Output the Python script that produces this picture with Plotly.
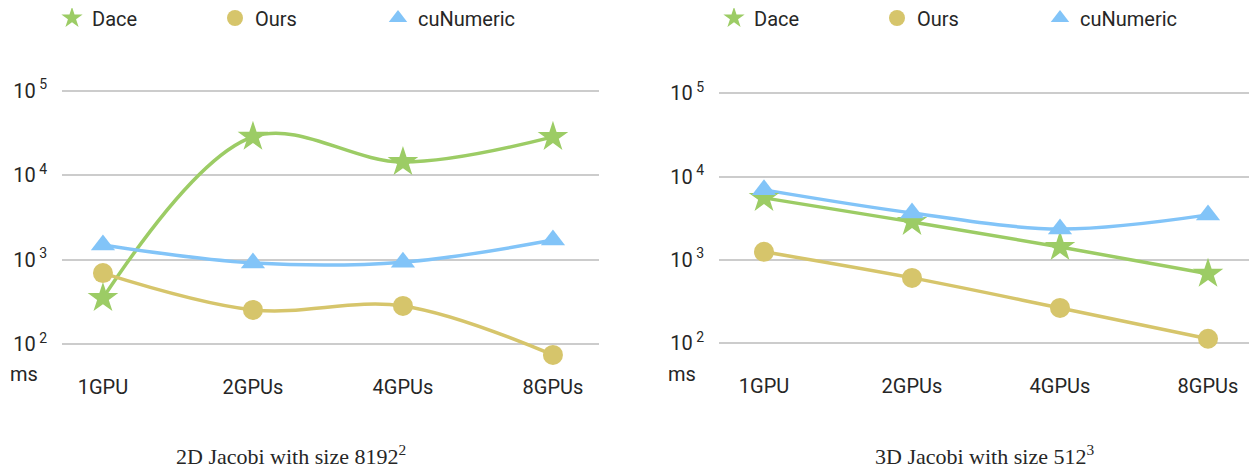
import plotly.graph_objects as go

# ---- data ----
categories = ["1GPU", "2GPUs", "4GPUs", "8GPUs"]
series_names = ["Dace", "Ours", "cuNumeric"]

jacobi2d_dace = [350, 28500, 14300, 28400]
jacobi2d_ours = [690, 253, 282, 74]
jacobi2d_cunumeric = [1490, 910, 930, 1700]

jacobi3d_dace = [5550, 2860, 1430, 680]
jacobi3d_ours = [1250, 608, 265, 113]
jacobi3d_cunumeric = [6930, 3660, 2350, 3470]

y_tick_values = [100, 1000, 10000, 100000]
y_tick_labels = ["10<sup> 2</sup>", "10<sup> 3</sup>", "10<sup> 4</sup>", "10<sup> 5</sup>"]
y_unit = "ms"
panel_titles = ["2D Jacobi with size 8192<sup>2</sup>", "3D Jacobi with size 512<sup>3</sup>"]

# ---- styles ----
# the page body adds an 8px margin, so the figure is 8px smaller than the window
W, H = 1249, 462
OFF = 8
colors = {"Dace": "#9ccc65", "Ours": "#d6c56b", "cuNumeric": "#82c4f8"}
symbols = {"Dace": "star", "Ours": "circle", "cuNumeric": "triangle-up"}
sizes = {"Dace": 23, "Ours": 20, "cuNumeric": 21}
FONT = "Roboto, 'Noto Sans', sans-serif"
TXT = "#262626"

panels = [
    {"data": dict(zip(series_names, [jacobi2d_dace, jacobi2d_ours, jacobi2d_cunumeric])),
     "xa": "x", "ya": "y", "legend": "legend"},
    {"data": dict(zip(series_names, [jacobi3d_dace, jacobi3d_ours, jacobi3d_cunumeric])),
     "xa": "x2", "ya": "y2", "legend": "legend2"},
]

fig = go.Figure()
for p in panels:
    # smoothed lines (not shown in legend)
    for name in series_names:
        fig.add_trace(go.Scatter(
            x=categories, y=p["data"][name], name=name, mode="lines",
            line=dict(color=colors[name], width=3.5, shape="spline", smoothing=1),
            xaxis=p["xa"], yaxis=p["ya"], showlegend=False, hoverinfo="skip",
        ))
    # markers (legend entries)
    for name in series_names:
        fig.add_trace(go.Scatter(
            x=categories, y=p["data"][name], name=name, mode="markers",
            marker=dict(symbol=symbols[name], size=sizes[name], color=colors[name]),
            xaxis=p["xa"], yaxis=p["ya"], legend=p["legend"],
        ))

# screen pixel -> paper fraction
def px_x(v):
    return (v - OFF) / W

def px_y(v):
    return 1 - (v - OFF) / H

axis_common_y = dict(
    type="log", tickvals=y_tick_values, ticktext=y_tick_labels,
    showgrid=True, gridcolor="#cccccc", gridwidth=2,
    zeroline=False, showline=False,
    ticks="outside", ticklen=10, tickcolor="rgba(0,0,0,0)",
    tickfont=dict(family=FONT, size=20, color=TXT),
    range=[1.75, 5.03], fixedrange=True,
)
axis_common_x = dict(
    type="category", showgrid=False, zeroline=False, showline=False,
    ticks="outside", ticklen=4, tickcolor="rgba(0,0,0,0)",
    tickfont=dict(family=FONT, size=20, color=TXT), fixedrange=True,
)

legend_common = dict(
    orientation="h", xanchor="left", yanchor="middle",
    entrywidth=118, entrywidthmode="pixels",
    font=dict(family=FONT, size=20, color=TXT),
    bgcolor="rgba(0,0,0,0)", itemclick=False, itemdoubleclick=False,
)

fig.update_layout(
    width=W, height=H, autosize=False,
    margin=dict(l=0, r=0, t=0, b=0, pad=0, autoexpand=False),
    paper_bgcolor="white", plot_bgcolor="white",
    showlegend=True,
    xaxis=dict(axis_common_x, domain=[px_x(62), px_x(599)], range=[-0.273, 3.307], anchor="y"),
    yaxis=dict(axis_common_y, domain=[px_y(365), px_y(88.2)], anchor="x"),
    xaxis2=dict(axis_common_x, domain=[px_x(719), 1.0], range=[-0.304, 3.331], anchor="y2"),
    yaxis2=dict(axis_common_y, domain=[px_y(364), px_y(90.8)], anchor="x2"),
    legend=dict(legend_common, x=px_x(52), y=px_y(18)),
    legend2=dict(legend_common, x=px_x(714), y=px_y(18)),
)

# unit labels and panel titles
for x0 in (12, 670):
    fig.add_annotation(text=y_unit, xref="paper", yref="paper", x=px_x(x0 - 4), y=px_y(374),
                       xanchor="left", yanchor="middle", showarrow=False,
                       font=dict(family=FONT, size=20, color=TXT))
for title, xc in zip(panel_titles, (291, 985)):
    fig.add_annotation(text=title, xref="paper", yref="paper", x=px_x(xc), y=px_y(455),
                       xanchor="center", yanchor="middle", showarrow=False,
                       font=dict(family="'Liberation Serif', 'DejaVu Serif', serif", size=22, color=TXT))

fig.write_html("out.html")
